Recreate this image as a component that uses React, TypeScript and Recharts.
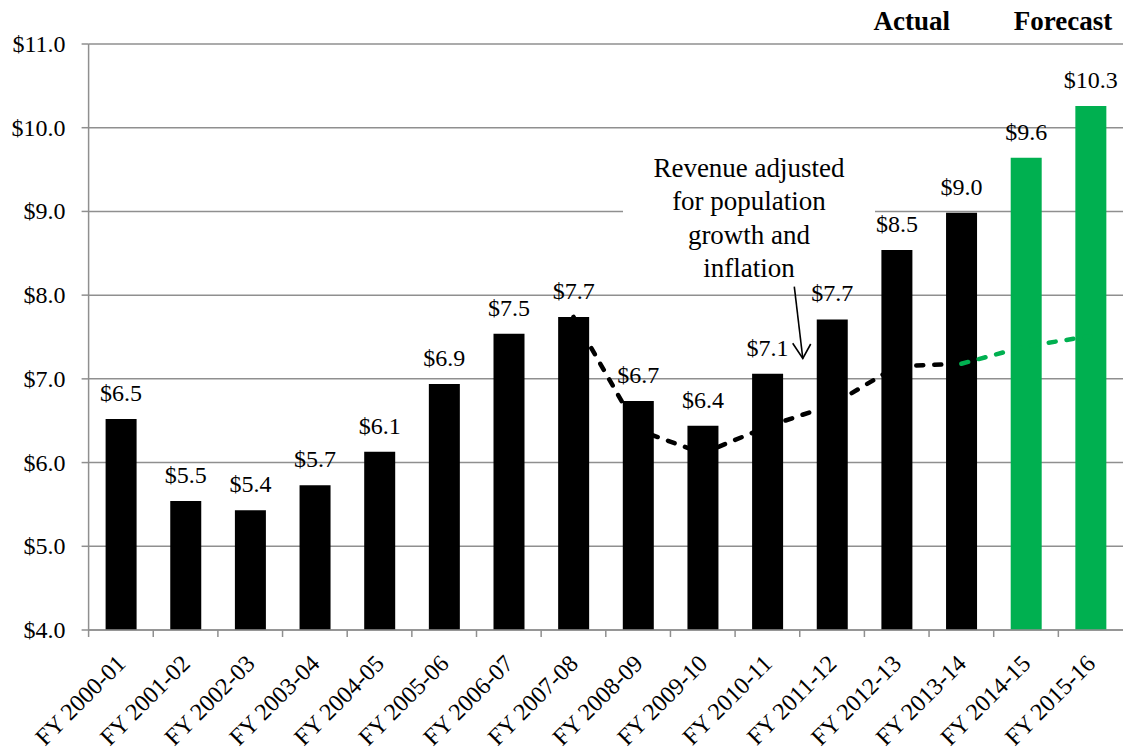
import React from 'react';
import {
  ComposedChart,
  Bar,
  Line,
  XAxis,
  YAxis,
  CartesianGrid,
  ReferenceArea,
  LabelList,
  Cell,
} from 'recharts';

const categories = [
  'FY 2000-01', 'FY 2001-02', 'FY 2002-03', 'FY 2003-04', 'FY 2004-05', 'FY 2005-06',
  'FY 2006-07', 'FY 2007-08', 'FY 2008-09', 'FY 2009-10', 'FY 2010-11', 'FY 2011-12',
  'FY 2012-13', 'FY 2013-14', 'FY 2014-15', 'FY 2015-16',
];
const revenue = [6.52, 5.54, 5.43, 5.73, 6.13, 6.94, 7.54, 7.74, 6.735, 6.44, 7.06, 7.71, 8.54, 8.985, 9.64, 10.26];
const adjustedActual = [null, null, null, null, null, null, null, 7.74, 6.39, 6.11, 6.43, 6.69, 7.15, 7.18, null, null];
const adjustedForecast = [null, null, null, null, null, null, null, null, null, null, null, null, null, 7.18, 7.39, 7.51];
const isForecast = [false, false, false, false, false, false, false, false, false, false, false, false, false, false, true, true];
const yTicks = [4, 5, 6, 7, 8, 9, 10, 11];
const annotationLines = ['Revenue adjusted', 'for population', 'growth and', 'inflation'];
const headingActual = 'Actual';
const headingForecast = 'Forecast';

const data = categories.map((c, i) => ({
  name: c,
  revenue: revenue[i],
  adj: adjustedActual[i],
  adjF: adjustedForecast[i],
  forecast: isForecast[i],
}));

const W = 1123;
const H = 752;
const LEFT = 88.6;
const TOP = 44;
const XAXIS_H = 122;
const BAND = (W - LEFT) / categories.length;
const SERIF = "'Liberation Serif', 'Times New Roman', Tinos, 'DejaVu Serif', serif";
const GRID = '#8f8f8f';
const GREEN = '#00B050';
const txt: React.CSSProperties = { fontFamily: SERIF, fontSize: 24, fontWeight: 400, fill: '#000' };

const fmt = (v: any) => `$${Number(v).toFixed(1)}`;

const XTick = (props: any) => {
  const { x, y, payload } = props;
  const bx = x - BAND / 2;
  return (
    <g>
      <line x1={bx} y1={y} x2={bx} y2={y + 7} stroke={GRID} strokeWidth={1.5} />
      <text transform={`translate(${x + 6},${y + 35}) rotate(-45)`} textAnchor="end" style={txt} fontFamily={SERIF}>
        {payload.value}
      </text>
    </g>
  );
};

const YTick = (props: any) => {
  const { x, y, payload } = props;
  return (
    <text x={x} y={y} dy={8} textAnchor="end" style={txt} fontFamily={SERIF}>
      {fmt(payload.value)}
    </text>
  );
};

const BarLabel = (props: any) => {
  const { x, y, width, value } = props;
  return (
    <text x={Number(x) + Number(width) / 2} y={Number(y) - 18} textAnchor="middle" style={txt} fontFamily={SERIF}>
      {fmt(value)}
    </text>
  );
};

export default function App() {
  return (
    <div style={{ position: 'absolute', left: 0, top: 0, width: W, height: H, background: '#fff', fontFamily: SERIF }}>
      <ComposedChart
        width={W}
        height={H}
        data={data}
        margin={{ top: TOP, right: 0, bottom: 0, left: 0 }}
      >
        <ReferenceArea
          x1="FY 2014-15"
          x2="FY 2015-16"
          y1={4}
          y2={11}
          fill="#000"
          fillOpacity={0.085}
          stroke="none"
          isFront={false}
        />
        <CartesianGrid vertical={false} stroke={GRID} strokeWidth={1.5} />
        <XAxis
          dataKey="name"
          height={XAXIS_H}
          interval={0}
          tickLine={false}
          tickSize={0}
          tickMargin={0}
          axisLine={{ stroke: GRID, strokeWidth: 1.5 }}
          tick={<XTick />}
        />
        <YAxis
          width={LEFT}
          domain={[4, 11]}
          ticks={yTicks}
          interval={0}
          tickSize={7}
          tickMargin={16}
          axisLine={{ stroke: GRID, strokeWidth: 1.5 }}
          tickLine={{ stroke: GRID, strokeWidth: 1.5 }}
          tick={<YTick />}
        />
        <Bar dataKey="revenue" barSize={31} isAnimationActive={false}>
          {data.map((d, i) => (
            <Cell key={i} fill={d.forecast ? GREEN : '#000'} />
          ))}
          <LabelList dataKey="revenue" content={<BarLabel />} />
        </Bar>
        <Line
          dataKey="adj"
          stroke="#000"
          strokeWidth={4.5}
          strokeDasharray="7 11"
          strokeLinecap="round"
          dot={false}
          activeDot={false}
          type="linear"
          connectNulls={false}
          isAnimationActive={false}
        />
        <Line
          dataKey="adjF"
          stroke={GREEN}
          strokeWidth={4.5}
          strokeDasharray="7 11"
          strokeLinecap="round"
          dot={false}
          activeDot={false}
          type="linear"
          connectNulls={false}
          isAnimationActive={false}
        />
      </ComposedChart>
      <svg
        width={W}
        height={H}
        style={{ position: 'absolute', left: 0, top: 0, pointerEvents: 'none' }}
      >
        <rect x={623} y={200} width={252} height={22} fill="#fff" />
        {annotationLines.map((t, i) => (
          <text key={i} x={749} y={177 + i * 33.4} textAnchor="middle" style={{ ...txt, fontSize: 27 }} fontFamily={SERIF}>
            {t}
          </text>
        ))}
        <line x1={794.3} y1={286.7} x2={802.8} y2={358.5} stroke="#000" strokeWidth={1.6} />
        <polyline points="792.7,343.3 802.8,358.5 810.7,344" fill="none" stroke="#000" strokeWidth={1.6} />
        <text x={911.7} y={30} textAnchor="middle" style={{ ...txt, fontSize: 27, fontWeight: 700 }} fontFamily={SERIF}>
          {headingActual}
        </text>
        <text x={1063} y={30} textAnchor="middle" style={{ ...txt, fontSize: 27, fontWeight: 700 }} fontFamily={SERIF}>
          {headingForecast}
        </text>
      </svg>
    </div>
  );
}
